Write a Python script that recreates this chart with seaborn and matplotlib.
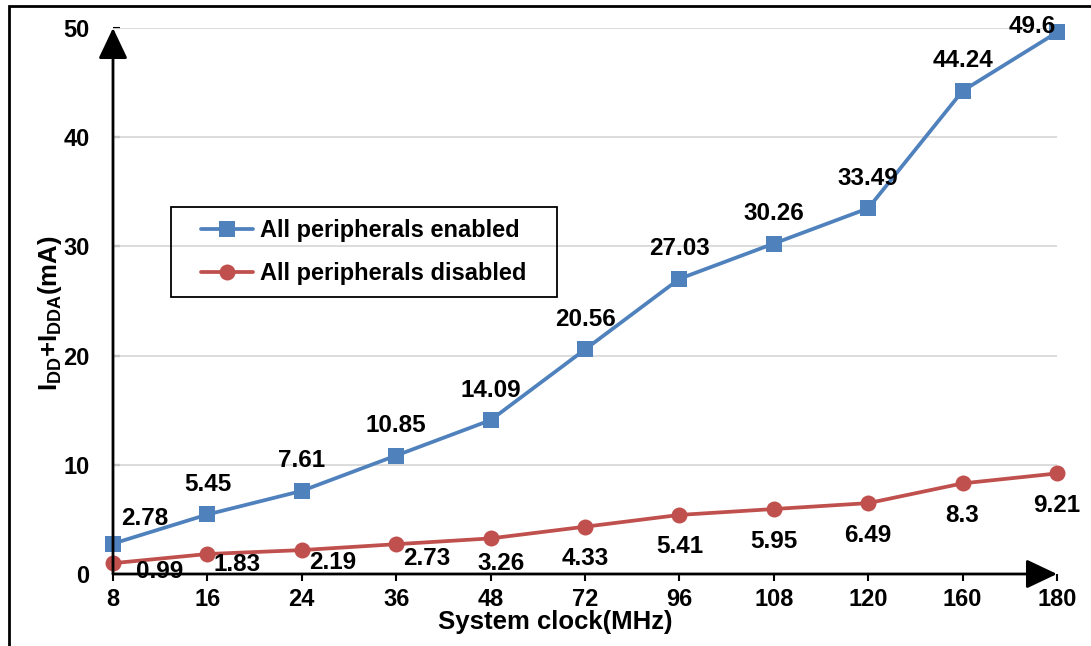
import pandas as pd
import seaborn as sns
import matplotlib.pyplot as plt
from matplotlib.patches import Rectangle

# данные с графика
clock = ['8', '16', '24', '36', '48', '72', '96', '108', '120', '160', '180']
enabled = [2.78, 5.45, 7.61, 10.85, 14.09, 20.56, 27.03, 30.26, 33.49, 44.24, 49.6]
disabled = [0.99, 1.83, 2.19, 2.73, 3.26, 4.33, 5.41, 5.95, 6.49, 8.3, 9.21]

# смещения подписей (в пикселях)
enabled_off = [(32, 25)] + [(0, 30)] * 9 + [(-25, 6)]
disabled_off = [(47, -8), (30, -10), (31, -12), (31, -14), (10, -25)] + [(0, -32)] * 6

sns.set_style('white')
plt.rcParams['font.family'] = ['Liberation Sans', 'DejaVu Sans']
plt.rcParams['font.weight'] = 'bold'
plt.rcParams['axes.labelweight'] = 'bold'
plt.rcParams['text.color'] = 'black'
plt.rcParams['axes.labelcolor'] = 'black'
plt.rcParams['xtick.color'] = 'black'
plt.rcParams['ytick.color'] = 'black'
plt.rcParams['mathtext.fontset'] = 'custom'
plt.rcParams['mathtext.rm'] = 'Liberation Sans:bold'
plt.rcParams['mathtext.bf'] = 'Liberation Sans:bold'

fig = plt.figure(figsize=(10.91, 6.46), dpi=100)
ax = fig.add_axes([113 / 1091, 72 / 646, 944 / 1091, 546 / 646])

df = pd.DataFrame({'clock': clock, 'enabled': enabled, 'disabled': disabled})

sns.lineplot(x='clock', y='enabled', data=df, ax=ax, color='#4f81bd', lw=2.7,
             marker='s', markersize=11.5, markeredgewidth=0, clip_on=False,
             label='All peripherals enabled', zorder=4)
sns.lineplot(x='clock', y='disabled', data=df, ax=ax, color='#c0504d', lw=2.7,
             marker='o', markersize=11.5, markeredgewidth=0, clip_on=False,
             label='All peripherals disabled', zorder=4)

# подписи значений
for i, v in enumerate(enabled):
    ax.annotate(f'{v:g}', (i, v), xytext=enabled_off[i], textcoords='offset pixels',
                ha='center', va='center', fontsize=17.5, fontweight='bold', zorder=6)
for i, v in enumerate(disabled):
    ax.annotate(f'{v:g}', (i, v), xytext=disabled_off[i], textcoords='offset pixels',
                ha='center', va='center', fontsize=17.5, fontweight='bold', zorder=6)

ax.set_xlim(0, len(clock) - 1)
ax.set_ylim(0, 50)
ax.set_yticks([0, 10, 20, 30, 40, 50])

# сетка только по горизонтали
for y in [10, 20, 30, 40, 50]:
    ax.axhline(y, color='#d9d9d9', lw=1.3, zorder=1)

for s in ax.spines.values():
    s.set_visible(False)

# оси со стрелками
arr = dict(arrowstyle='-|>,head_length=1.9,head_width=0.9', lw=2, color='black',
           mutation_scale=10, shrinkA=0, shrinkB=0)
ax.annotate('', xy=(1, 0), xytext=(0, 0), xycoords='axes fraction', arrowprops=arr, zorder=5)
ax.annotate('', xy=(0, 1), xytext=(0, 0), xycoords='axes fraction', arrowprops=arr, zorder=5)

ax.tick_params(axis='x', direction='out', length=5, width=1.5, pad=5, labelsize=17, bottom=True)
ax.tick_params(axis='y', direction='in', length=5, width=1.5, pad=17, labelsize=17, left=True)

ax.set_xlabel('System clock(MHz)', fontsize=18.5, fontweight='bold', va='top')
ax.xaxis.set_label_coords(0.469, -0.066)
ax.set_ylabel(r'$\mathregular{I_{DD}}$+$\mathregular{I_{DDA}}$(mA)', fontsize=18.5,
              fontweight='bold')
ax.yaxis.set_label_coords(-0.052, 0.478)

leg = ax.legend(loc='center', bbox_to_anchor=(0.266, 0.590), borderaxespad=0,
                fontsize=17, frameon=False, handlelength=2.2, labelspacing=0.85,
                handletextpad=0.3)
for t in leg.get_texts():
    t.set_fontweight('bold')
# рамка легенды
ax.add_patch(Rectangle(((171 - 113) / 944, (574 - 297) / 546), 386 / 944, 90 / 546,
                       transform=ax.transAxes, fill=False, lw=1.3, edgecolor='black',
                       zorder=7))

# рамка вокруг рисунка
fig.patches.append(Rectangle((9 / 1091, -0.1), 1.2, 1.1 - 6 / 646, transform=fig.transFigure,
                             fill=False, lw=2, edgecolor='black'))

fig.savefig('out.png', dpi=100)
